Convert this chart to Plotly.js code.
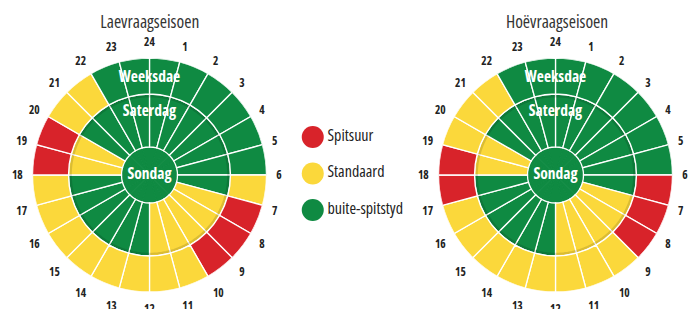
<!DOCTYPE html>
<html>
<head>
<meta charset="utf-8">
<script src="https://cdn.plot.ly/plotly-3.0.1.min.js"></script>
<style>
html,body{margin:0;padding:0;background:#fff;}
#chart{width:695px;height:309px;}
#chart text{font-stretch:condensed !important;}
</style>
</head>
<body>
<div id="chart"></div>
<script>
// ---- data ----
const hourLabels = ['24','1','2','3','4','5','6','7','8','9','10','11','12','13','14','15','16','17','18','19','20','21','22','23'];
const hourTicks = [0,15,30,45,60,75,90,105,120,135,150,165,180,195,210,225,240,255,270,285,300,315,330,345];
// tariff per hour segment (segment h runs from hour h to h+1): P = Spitsuur, S = Standaard, O = buite-spitstyd
const lowWeekdays  = ['O','O','O','O','O','O','S','P','P','P','S','S','S','S','S','S','S','S','P','P','S','S','O','O'];
const lowSaturday  = ['O','O','O','O','O','O','O','S','S','S','S','S','O','O','O','O','O','O','S','S','O','O','O','O'];
const lowSunday    = ['O','O','O','O','O','O','O','O','O','O','O','O','O','O','O','O','O','O','O','O','O','O','O','O'];
const highWeekdays = ['O','O','O','O','O','O','P','P','P','S','S','S','S','S','S','S','S','P','P','S','S','S','O','O'];
const highSaturday = ['O','O','O','O','O','O','O','S','S','S','S','S','O','O','O','O','O','O','S','S','O','O','O','O'];
const highSunday   = ['O','O','O','O','O','O','O','O','O','O','O','O','O','O','O','O','O','O','O','O','O','O','O','O'];
const seasonTitles = ['Laevraagseisoen','Hoëvraagseisoen'];
const ringNames = ['Weeksdae','Saterdag','Sondag'];
const legendCodes = ['P','S','O'];
const legendLabels = ['Spitsuur','Standaard','buite-spitstyd'];

// ---- styles ----
const palette = {P:'#d8232a', S:'#fbd83b', O:'#0f8a42'};
const FONT = '"Open Sans",sans-serif';
const R_IN = 28, R_MID = 81, R_OUT = 117;
const centers = hourTicks.map(t => t + 7.5);
const circleTheta = [];
for (let a = 0; a <= 360; a += 3) circleTheta.push(a);

function ringTrace(codes, base, len, sub, lineColor, lineWidth) {
  return {
    type:'barpolar', subplot:sub,
    theta: centers, width: centers.map(()=>15),
    base: codes.map(()=>base), r: codes.map(()=>len),
    marker:{color: codes.map(c=>palette[c]),
            line:{color: lineColor || 'white', width: lineWidth === undefined ? 1.3 : lineWidth}},
    hoverinfo:'skip', showlegend:false
  };
}
function shadowTrace(sub) {
  return {
    type:'scatterpolar', subplot:sub, mode:'lines',
    r: circleTheta.map(()=>R_MID-2.2), theta: circleTheta,
    line:{color:'rgba(0,0,0,0.13)', width:2.2},
    hoverinfo:'skip', showlegend:false
  };
}
function labelTrace(sub) {
  return {
    type:'scatterpolar', subplot:sub, mode:'text',
    r:[97, 63, 0], theta:[0,0,0],
    text: ringNames,
    textfont:{family:FONT, size:15.5, color:'white', weight:'bold'},
    hoverinfo:'skip', showlegend:false, cliponaxis:false
  };
}

const data = [
  ringTrace(lowSunday, 0, R_IN, 'polar', palette.O, 1),
  ringTrace(lowSaturday, R_IN, R_MID-R_IN, 'polar'),
  ringTrace(lowWeekdays, R_MID, R_OUT-R_MID, 'polar'),
  shadowTrace('polar'),
  labelTrace('polar'),
  ringTrace(highSunday, 0, R_IN, 'polar2', palette.O, 1),
  ringTrace(highSaturday, R_IN, R_MID-R_IN, 'polar2'),
  ringTrace(highWeekdays, R_MID, R_OUT-R_MID, 'polar2'),
  shadowTrace('polar2'),
  labelTrace('polar2'),
  {
    type:'scatter', mode:'markers+text', xaxis:'x', yaxis:'y',
    x: legendLabels.map(()=>0), y: legendLabels,
    text: legendLabels, textposition:'middle right',
    marker:{size:22, color: legendCodes.map(c=>palette[c])},
    textfont:{family:FONT, size:16, color:'#222'},
    hoverinfo:'skip', showlegend:false, cliponaxis:false
  }
];

function polarLayout(xdom) {
  return {
    domain:{x:xdom, y:[17/309, 251/309]},
    bgcolor:'rgba(0,0,0,0)', barmode:'overlay', hole:0,
    radialaxis:{range:[0,R_OUT], visible:false},
    angularaxis:{rotation:90, direction:'clockwise', tickmode:'array',
      tickvals: hourTicks, ticktext: hourLabels,
      showgrid:false, showline:false, ticks:'outside', ticklen:7, tickcolor:'rgba(0,0,0,0)',
      tickfont:{family:FONT, size:11.5, color:'#222', weight:'bold'}}
  };
}

const layout = {
  width:695, height:309, margin:{l:0,r:0,t:0,b:0},
  paper_bgcolor:'white', plot_bgcolor:'rgba(0,0,0,0)', showlegend:false,
  polar: polarLayout([32.5/695, 266.5/695]),
  polar2: polarLayout([438.5/695, 672.5/695]),
  xaxis:{domain:[0.42,0.62], range:[-1.5,8.5], visible:false, fixedrange:true},
  yaxis:{domain:[0.2613,0.6157], type:'category', categoryorder:'array', categoryarray:legendLabels,
         range:[2.5,-0.5], visible:false, fixedrange:true},
  annotations:[
    {text:seasonTitles[0], x:149.5/695, y:(309-21)/309, xref:'paper', yref:'paper', xanchor:'center', yanchor:'middle',
     showarrow:false, font:{family:FONT, size:17.5, color:'#333'}},
    {text:seasonTitles[1], x:557/695, y:(309-21)/309, xref:'paper', yref:'paper', xanchor:'center', yanchor:'middle',
     showarrow:false, font:{family:FONT, size:17.5, color:'#333'}}
  ]
};

Plotly.newPlot('chart', data, layout, {displayModeBar:false, staticPlot:true});
</script>
</body>
</html>
